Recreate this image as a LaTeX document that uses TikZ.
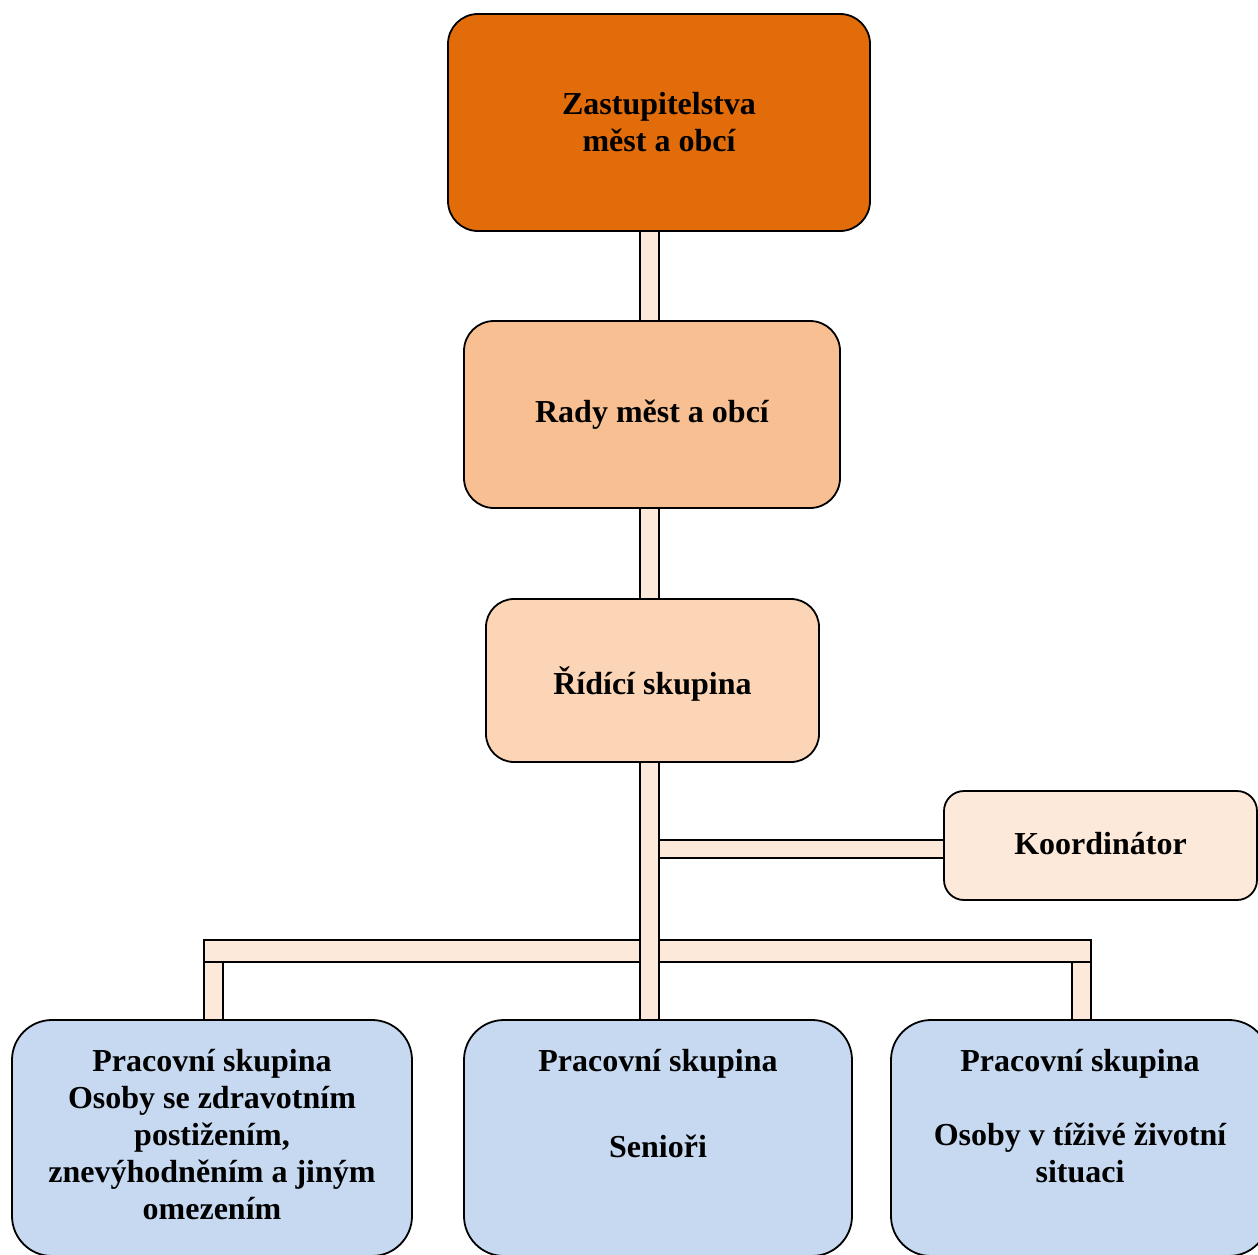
\documentclass[tikz,border=0pt]{standalone}
\usepackage{fontspec}
\setmainfont{Liberation Serif}
\usetikzlibrary{backgrounds}
\definecolor{cTop}{RGB}{227,108,10}
\definecolor{cRady}{RGB}{248,192,146}
\definecolor{cRidi}{RGB}{251,213,181}
\definecolor{cLight}{RGB}{253,233,217}
\definecolor{cBlue}{RGB}{198,217,241}
\begin{document}
\begin{tikzpicture}[x=1pt,y=-1pt,
  box/.style={draw=black, line width=1.8pt, rounded corners=#1, inner sep=0pt, outer sep=0pt,
    anchor=north west, align=center, font=\fontsize{32}{37}\selectfont\bfseries},
  lbl/.style={inner sep=0pt, outer sep=0pt, anchor=north, align=center,
    font=\fontsize{32}{37}\selectfont\bfseries},
  bar/.style={draw=black, line width=1.8pt, fill=cLight}]
\useasboundingbox (0,0) rectangle (1258,1255);
\node[box=30pt, fill=cTop, minimum width=422pt, minimum height=217pt] (zast) at (448,14) {Zastupitelstva\\měst a obcí};
\node[box=30pt, fill=cRady, minimum width=376pt, minimum height=187pt] (rady) at (464,321) {Rady měst a obcí};
\node[box=28pt, fill=cRidi, minimum width=333pt, minimum height=163pt] (ridi) at (486,599) {\raisebox{-4pt}[\height][\depth]{Řídící skupina}};
\node[box=20pt, fill=cLight, minimum width=313pt, minimum height=109pt] (koord) at (944,791) {\raisebox{2pt}[\height][\depth]{Koordinátor}};
\node[box=40pt, fill=cBlue, minimum width=400pt, minimum height=236pt] (pl) at (12,1020) {};
\node[box=40pt, fill=cBlue, minimum width=388pt, minimum height=236pt] (pm) at (464,1020) {};
\node[box=40pt, fill=cBlue, minimum width=378pt, minimum height=236pt] (pr) at (891,1020) {};
\node[lbl] (plt) at ([yshift=-29pt]pl.north) {Pracovní skupina\\Osoby se zdravotním\\postižením,\\znevýhodněním a jiným\\omezením};
\node[lbl] (pmt) at ([yshift=-29pt]pm.north) {Pracovní skupina\\[49pt]Senioři};
\node[lbl] (prt) at ([yshift=-29pt]pr.north) {Pracovní skupina\\[37pt]Osoby v tíživé životní\\situaci};
\coordinate (sL) at (640,0);
\coordinate (sR) at (659,0);
\coordinate (hTop) at (0,940);
\coordinate (hBot) at (0,962);
\coordinate (kT) at (0,840);
\coordinate (kB) at (0,858);
\begin{scope}[on background layer]
\draw[bar] ([xshift=-8pt]pl.north |- hTop) rectangle ([xshift=11pt]pr.north |- hBot);
\draw[bar] ([xshift=-8pt]pl.north |- hBot) rectangle ([xshift=11pt]pl.north);
\draw[bar] ([xshift=-8pt]pr.north |- hBot) rectangle ([xshift=11pt]pr.north);
\draw[bar] (sL |- kT) rectangle (koord.west |- kB);
\draw[bar] (sL |- zast.south) rectangle (sR |- rady.north);
\draw[bar] (sL |- rady.south) rectangle (sR |- ridi.north);
\draw[bar] (sL |- ridi.south) rectangle (sR |- pm.north);
\end{scope}
\end{tikzpicture}
\end{document}
